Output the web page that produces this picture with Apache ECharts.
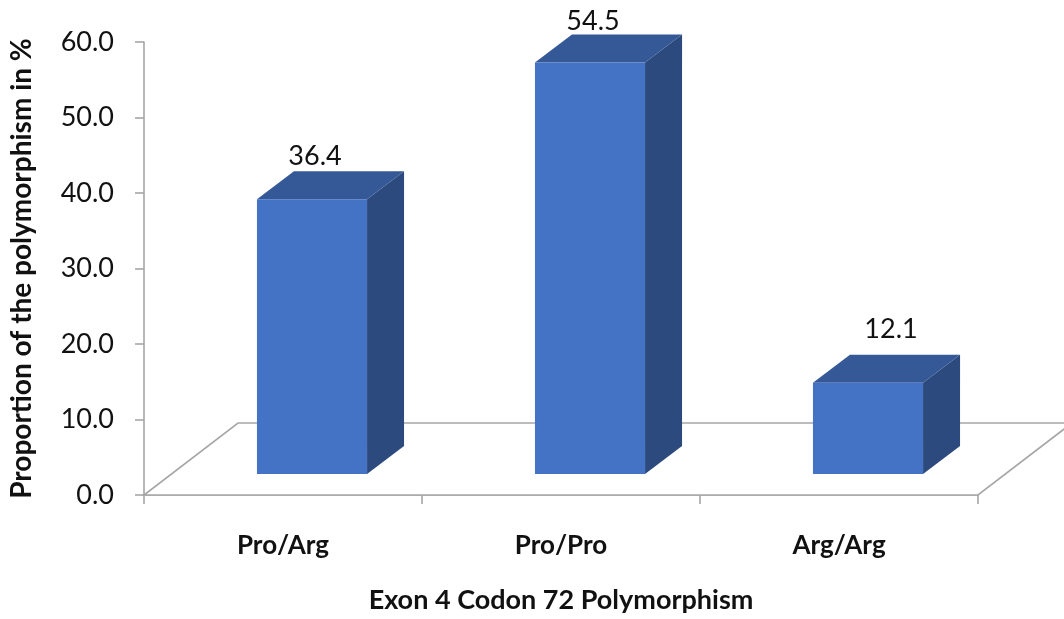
<!DOCTYPE html>
<html>
<head>
<meta charset="utf-8">
<script src="https://cdn.jsdelivr.net/npm/echarts@6/dist/echarts.min.js"></script>
<style>
html,body{margin:0;padding:0;background:#fff;}
#chart{width:1064px;height:619px;}
</style>
</head>
<body>
<div id="chart"></div>
<script>
// ---- data ----
var categories = ['Pro/Arg', 'Pro/Pro', 'Arg/Arg'];
var values = [36.4, 54.5, 12.1];
var yTicks = [0, 10, 20, 30, 40, 50, 60];
var xTitle = 'Exon 4 Codon 72 Polymorphism';
var yTitle = 'Proportion of the polymorphism in %';

// ---- styles ----
var FONT = 'Lato, "Open Sans", sans-serif';
var GRAY = '#a6a6a6';
var FLOOR_DX = 94, FLOOR_DY = -72;      // floor depth (px)
var BAR_DX = 37, BAR_DY = -28;          // bar depth (px)
var BAR_SHIFT_X = 29, BAR_SHIFT_Y = -21;// bar placed mid-depth
var BAR_W_RATIO = 0.396;
var labelNudge = [[3, -15], [3, -13], [23, -25]];

var chart = echarts.init(document.getElementById('chart'), null, {renderer: 'canvas'});

function renderFloor(params, api) {
  var cs = params.coordSys;
  var x0 = cs.x, x1 = cs.x + cs.width, y0 = cs.y + cs.height;
  return {
    type: 'polygon',
    z2: 0,
    shape: {points: [[x0, y0], [x1, y0], [x1 + FLOOR_DX, y0 + FLOOR_DY], [x0 + FLOOR_DX, y0 + FLOOR_DY]]},
    style: {fill: '#ffffff', stroke: GRAY, lineWidth: 1.6}
  };
}

function renderBar(params, api) {
  var i = api.value(0), v = api.value(1);
  var top = api.coord([i, v]);
  var base = api.coord([i, 0]);
  var band = api.size([1, 0])[0];
  var w = band * BAR_W_RATIO;
  var fx = top[0] + BAR_SHIFT_X - w / 2;
  var ty = top[1] + BAR_SHIFT_Y;
  var by = base[1] + BAR_SHIFT_Y;
  var nud = labelNudge[params.dataIndex] || [0, -15];
  return {
    type: 'group',
    children: [
      {type: 'polygon', shape: {points: [[fx + w, ty], [fx + w + BAR_DX, ty + BAR_DY], [fx + w + BAR_DX, by + BAR_DY], [fx + w, by]]},
       style: {fill: '#2c4a7e'}},
      {type: 'polygon', shape: {points: [[fx, ty], [fx + BAR_DX, ty + BAR_DY], [fx + w + BAR_DX, ty + BAR_DY], [fx + w, ty]]},
       style: {fill: '#355996'}},
      {type: 'rect', shape: {x: fx, y: ty, width: w, height: by - ty},
       style: {fill: '#4472c4'}},
      {type: 'text', x: fx + w / 2 + nud[0], y: ty + BAR_DY + nud[1],
       style: {text: v.toFixed(1), fill: '#111', font: '27px ' + FONT, textAlign: 'center', textVerticalAlign: 'middle'}}
    ]
  };
}

chart.setOption({
  animation: false,
  backgroundColor: '#ffffff',
  grid: {left: 143, right: 86, top: 42, bottom: 120},
  xAxis: {
    type: 'category',
    data: categories,
    boundaryGap: true,
    axisLine: {show: true, lineStyle: {color: GRAY, width: 1.6}},
    axisTick: {show: true, length: 9, lineStyle: {color: GRAY, width: 1.6}},
    axisLabel: {color: '#111', fontFamily: FONT, fontWeight: 'bold', fontSize: 26, margin: 38},
    name: xTitle,
    nameLocation: 'middle',
    nameGap: 92,
    nameTextStyle: {color: '#111', fontFamily: FONT, fontWeight: 'bold', fontSize: 27}
  },
  yAxis: {
    type: 'value',
    min: yTicks[0],
    max: yTicks[yTicks.length - 1],
    interval: yTicks[1] - yTicks[0],
    axisLine: {show: true, lineStyle: {color: GRAY, width: 1.6}},
    axisTick: {show: true, length: 9, lineStyle: {color: GRAY, width: 1.6}},
    splitLine: {show: false},
    axisLabel: {color: '#111', fontFamily: FONT, fontSize: 27, margin: 30,
      formatter: function (v) { return v.toFixed(1); }},
    name: yTitle,
    nameLocation: 'middle',
    nameRotate: 90,
    nameGap: 108,
    nameTextStyle: {color: '#111', fontFamily: FONT, fontWeight: 'bold', fontSize: 28}
  },
  series: [
    {type: 'custom', z: 1, renderItem: renderFloor, data: [[0, 0]], silent: true},
    {type: 'custom', z: 3, renderItem: renderBar, data: values.map(function (v, i) { return [i, v]; })}
  ]
});
</script>
</body>
</html>
